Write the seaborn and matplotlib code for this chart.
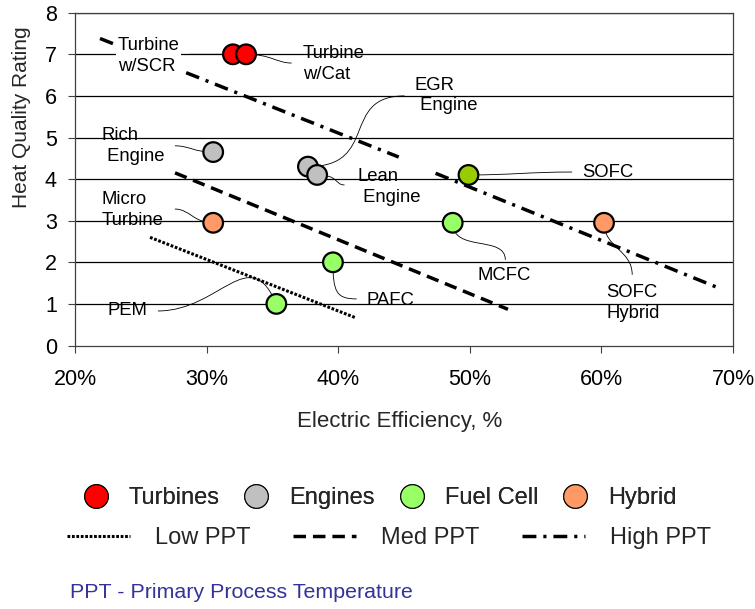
import matplotlib
matplotlib.use("Agg")
import matplotlib.pyplot as plt
from matplotlib.lines import Line2D
from matplotlib.path import Path
from matplotlib.patches import PathPatch
from matplotlib.ticker import FuncFormatter
import seaborn as sns
import pandas as pd

# ---------------- data ----------------
technologies = ["Turbine w/SCR", "Turbine w/Cat", "Rich Engine", "EGR Engine", "Lean Engine",
                "Micro Turbine", "PEM", "PAFC", "MCFC", "SOFC", "SOFC Hybrid"]
efficiency = [32.0, 33.0, 30.5, 37.7, 38.4, 30.5, 35.3, 39.6, 48.7, 49.9, 60.2]
heat_quality = [7.0, 7.0, 4.65, 4.3, 4.1, 2.95, 1.0, 2.0, 2.95, 4.1, 2.95]
tech_class = ["Turbines", "Turbines", "Engines", "Engines", "Engines",
              "Hybrid", "Fuel Cell", "Fuel Cell", "Fuel Cell", "SOFC", "Hybrid"]

legend_classes = ["Turbines", "Engines", "Fuel Cell", "Hybrid"]

low_ppt_x = [25.7, 41.3]
low_ppt_y = [2.6, 0.67]
med_ppt_x = [27.6, 52.9]
med_ppt_y = [4.15, 0.87]
high_ppt_a_x = [21.9, 44.6]
high_ppt_a_y = [7.38, 4.53]
high_ppt_b_x = [47.4, 68.7]
high_ppt_b_y = [4.14, 1.41]

x_ticks = [20, 30, 40, 50, 60, 70]
y_ticks = [0, 1, 2, 3, 4, 5, 6, 7, 8]

label_texts = ["Turbine\nw/SCR", "Turbine\nw/Cat", "Rich\n Engine", "EGR\n Engine", "Lean\n Engine",
               "Micro\nTurbine", "PEM", "PAFC", "MCFC", "SOFC", "SOFC\nHybrid"]

# ---------------- styles / positions ----------------
palette = {"Turbines": "#FF0000", "Engines": "#C0C0C0", "Fuel Cell": "#99FF66",
           "Hybrid": "#FF9966", "SOFC": "#99CC00"}

label_pos = [(23.26, 6.96), (37.30, 6.77), (22.05, 4.80), (45.80, 6.01), (41.47, 3.81),
             (22.05, 3.26), (22.50, 0.83), (42.15, 1.09), (50.58, 1.69), (58.54, 4.17),
             (60.36, 1.02)]
# connector end near the label (data) and bezier control offsets in pixels (x right, y down)
conn_end = [(28.7, 7.0), (36.46, 6.79), (27.59, 4.80), (45.04, 6.0), (40.48, 3.86),
            (27.59, 3.28), (26.30, 0.83), (41.40, 1.12), (52.70, 2.06), (57.78, 4.17),
            (62.34, 1.70)]
conn_ctrl = [((0, 0), (0, 0)), ((25, 0), (-15, 0)), ((-20, 0), (15, 0)), ((72, 0), (-65, 0)),
             ((22, 0), (-10, 0)), ((-20, 0), (15, 0)), ((-27, -63), (62, 0)), ((0, 30), (-20, 0)),
             ((0, 30), (0, -25)), ((45, 0), (-45, 0)), ((0, 25), (0, -25))]

sns.set_theme(style="white")
plt.rcParams['font.family'] = ['Liberation Sans', 'DejaVu Sans']

W, H = 755, 609
fig = plt.figure(figsize=(W / 100, H / 100), dpi=100)
ax = fig.add_axes([75 / W, 1 - 345.5 / H, (733 - 75) / W, (345.5 - 12.7) / H])
ax.set_xlim(20, 70)
ax.set_ylim(0, 8)

# gridlines
for yv in y_ticks[1:]:
    ax.axhline(yv, color="black", lw=0.9, zorder=1)

# PPT lines
line_specs = [
    (low_ppt_x, low_ppt_y, 2.2, (0, (0.9, 0.55))),
    (med_ppt_x, med_ppt_y, 2.5, (0, (3.6, 2.0))),
    (high_ppt_a_x, high_ppt_a_y, 2.5, (0, (4.0, 2.0, 0.9, 2.0))),
    (high_ppt_b_x, high_ppt_b_y, 2.5, (0, (4.0, 2.0, 0.9, 2.0))),
]
for lx, ly, lw, ls in line_specs:
    sns.lineplot(x=lx, y=ly, ax=ax, color="black", lw=lw, linestyle=ls, sort=False,
                 zorder=4, solid_capstyle="butt", dash_capstyle="butt")

# points
df = pd.DataFrame({"tech": technologies, "eff": efficiency, "hq": heat_quality, "cls": tech_class})
sns.scatterplot(data=df, x="eff", y="hq", hue="cls", palette=palette, s=200,
                edgecolor="black", linewidth=1.6, legend=False, ax=ax, zorder=3)

# connectors (cubic bezier between point and label)
to_disp = ax.transData.transform
to_data = ax.transData.inverted().transform
for i in range(len(technologies)):
    p0 = to_disp((efficiency[i], heat_quality[i]))
    p3 = to_disp(conn_end[i])
    (c0x, c0y), (c1x, c1y) = conn_ctrl[i]
    p1 = (p0[0] + c0x, p0[1] - c0y)
    p2 = (p3[0] + c1x, p3[1] - c1y)
    verts = [to_data(p) for p in (p0, p1, p2, p3)]
    path = Path(verts, [Path.MOVETO, Path.CURVE4, Path.CURVE4, Path.CURVE4])
    ax.add_patch(PathPatch(path, facecolor="none", edgecolor="black", lw=0.6, zorder=2))

# labels
for i, txt in enumerate(label_texts):
    kw = {}
    if i == 0:
        kw["bbox"] = dict(facecolor="white", edgecolor="none", pad=1)
    ax.text(label_pos[i][0], label_pos[i][1], txt, ha="left", va="center",
            fontsize=13.3, linespacing=1.28, color="black", zorder=6, **kw)

# axes styling
ax.set_xticks(x_ticks)
ax.set_yticks(y_ticks)
ax.xaxis.set_major_formatter(FuncFormatter(lambda v, p: f"{int(v)}%"))
ax.tick_params(axis="both", direction="out", length=5, width=0.8, color="#404040",
               labelsize=15.5, labelcolor="black", bottom=True, left=True)
ax.tick_params(axis="x", pad=12)
ax.tick_params(axis="y", pad=8)
for side in ["left", "right", "top", "bottom"]:
    ax.spines[side].set_visible(True)
    ax.spines[side].set_color("#404040")
    ax.spines[side].set_linewidth(0.9)
ax.set_xlabel("")
ax.set_ylabel("")

fig.text(400 / W, 1 - 422 / H, "Electric Efficiency, %", ha="center", va="center", fontsize=16)
fig.text(22 / W, 1 - 117 / H, "Heat Quality Rating", ha="center", va="center",
         rotation=90, fontsize=15)

# legends
marker_handles = [Line2D([], [], marker="o", linestyle="", markersize=17,
                         markerfacecolor=palette[c], markeredgecolor="black",
                         markeredgewidth=0.8) for c in legend_classes]
leg1 = fig.legend(marker_handles, legend_classes, loc="center left",
                  bbox_to_anchor=(84 / W, 1 - 498 / H), ncol=4, frameon=False,
                  fontsize=17, handlelength=1.0, handletextpad=0.9, columnspacing=1.05,
                  borderpad=0, borderaxespad=0)
line_handles = [Line2D([], [], color="black", lw=ls[2], linestyle=ls[3]) for ls in
                [line_specs[0], line_specs[1], line_specs[2]]]
leg2 = fig.legend(line_handles, ["Low PPT", "Med PPT", "High PPT"], loc="center left",
                  bbox_to_anchor=(67 / W, 1 - 538 / H), ncol=3, frameon=False,
                  fontsize=17, handlelength=2.67, handletextpad=1.06, columnspacing=1.8,
                  borderpad=0, borderaxespad=0)
fig.add_artist(leg1)

fig.text(70 / W, 1 - 593 / H, "PPT - Primary Process Temperature", ha="left", va="center",
         fontsize=15.4, color="#333399")

fig.savefig("out.png", dpi=100)
